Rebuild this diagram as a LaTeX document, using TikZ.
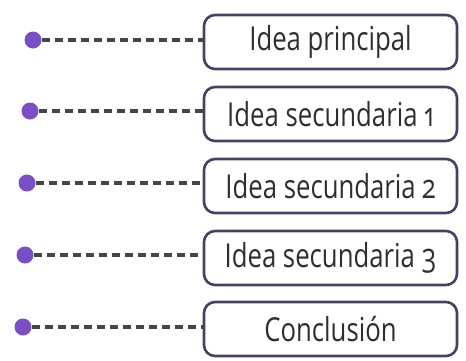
\documentclass[tikz,border=0pt]{standalone}
\usepackage{fontspec}
\newfontfamily\ideafont[FakeStretch=0.78,Numbers=OldStyle]{Open Sans}
\usepackage{xcolor}
\usetikzlibrary{positioning}

\definecolor{dotviolet}{HTML}{7A4FC6}
\definecolor{boxline}{HTML}{4B3D66}
\definecolor{dashgray}{HTML}{454545}
\definecolor{textgray}{HTML}{2E2E2E}

\begin{document}
\begin{tikzpicture}[x=1pt,y=-1pt,
  idea/.style={draw=boxline, line width=2.6pt, rounded corners=11pt,
    minimum width=253pt, minimum height=54pt, inner sep=0pt,
    font=\ideafont\fontsize{33}{33}\selectfont, text=textgray},
  dot/.style={circle, fill=dotviolet, minimum size=17pt, inner sep=0pt},
  link/.style={dashgray, line width=3.2pt, dash pattern=on 8pt off 5pt}]
\useasboundingbox (0,0) rectangle (466,360);
\node[idea] (idea1) at (330.5,42) {Idea principal};
\node[idea] (idea2) at (330.5,114) {Idea secundaria 1};
\node[idea] (idea3) at (330.5,186) {Idea secundaria 2};
\node[idea] (idea4) at (330.5,258) {Idea secundaria 3};
\node[idea] (idea5) at (330.5,329) {Conclusión};
\node[dot] (dot1) at (33,40) {};
\node[dot] (dot2) at (30,111) {};
\node[dot] (dot3) at (27,183) {};
\node[dot] (dot4) at (25,255) {};
\node[dot] (dot5) at (23,327) {};
\draw[link] (dot1.east) -- (dot1.east -| idea1.west);
\draw[link] (dot2.east) -- (dot2.east -| idea2.west);
\draw[link] (dot3.east) -- (dot3.east -| idea3.west);
\draw[link] (dot4.east) -- (dot4.east -| idea4.west);
\draw[link] (dot5.east) -- (dot5.east -| idea5.west);
\end{tikzpicture}
\end{document}
